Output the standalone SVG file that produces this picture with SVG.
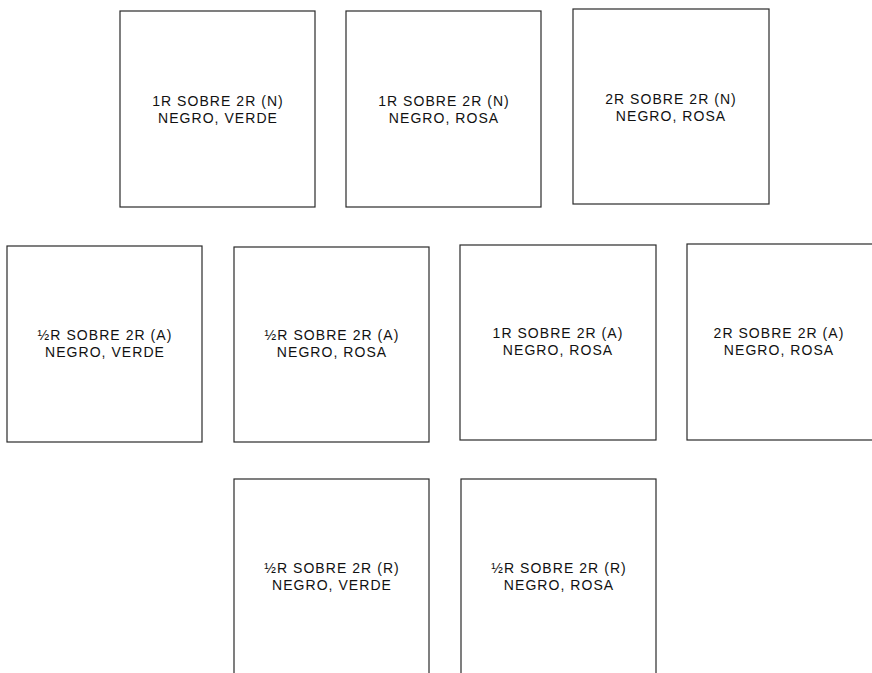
<svg xmlns="http://www.w3.org/2000/svg" width="872" height="673" viewBox="0 0 872 673">
<style>
.box{fill:#fff;stroke:#2a2a2a;stroke-width:1.2}
.t{font-family:"Liberation Sans",Arial,sans-serif;font-size:14px;letter-spacing:1.05px;fill:#111;text-anchor:middle}
</style>
<rect width="872" height="673" fill="#fff"/>
<g id="connectors"></g>
<g id="n1"><rect class="box" x="120" y="11" width="195" height="196"/><text class="t" x="218" y="106">1R SOBRE 2R (N)</text><text class="t" x="218" y="123">NEGRO, VERDE</text></g>
<g id="n2"><rect class="box" x="346" y="11" width="195" height="196"/><text class="t" x="444" y="106">1R SOBRE 2R (N)</text><text class="t" x="444" y="123">NEGRO, ROSA</text></g>
<g id="n3"><rect class="box" x="573" y="9" width="196" height="195"/><text class="t" x="671" y="104">2R SOBRE 2R (N)</text><text class="t" x="671" y="121">NEGRO, ROSA</text></g>
<g id="n4"><rect class="box" x="7" y="246" width="195" height="196"/><text class="t" x="105" y="340">½R SOBRE 2R (A)</text><text class="t" x="105" y="357">NEGRO, VERDE</text></g>
<g id="n5"><rect class="box" x="234" y="247" width="195" height="195"/><text class="t" x="332" y="340">½R SOBRE 2R (A)</text><text class="t" x="332" y="357">NEGRO, ROSA</text></g>
<g id="n6"><rect class="box" x="460" y="245" width="196" height="195"/><text class="t" x="558" y="338">1R SOBRE 2R (A)</text><text class="t" x="558" y="355">NEGRO, ROSA</text></g>
<g id="n7"><rect class="box" x="687" y="244" width="196" height="196"/><text class="t" x="779" y="338">2R SOBRE 2R (A)</text><text class="t" x="779" y="355">NEGRO, ROSA</text></g>
<g id="n8"><rect class="box" x="234" y="479" width="195" height="200"/><text class="t" x="332" y="573">½R SOBRE 2R (R)</text><text class="t" x="332" y="590">NEGRO, VERDE</text></g>
<g id="n9"><rect class="box" x="461" y="479" width="195" height="200"/><text class="t" x="559" y="573">½R SOBRE 2R (R)</text><text class="t" x="559" y="590">NEGRO, ROSA</text></g>
</svg>
